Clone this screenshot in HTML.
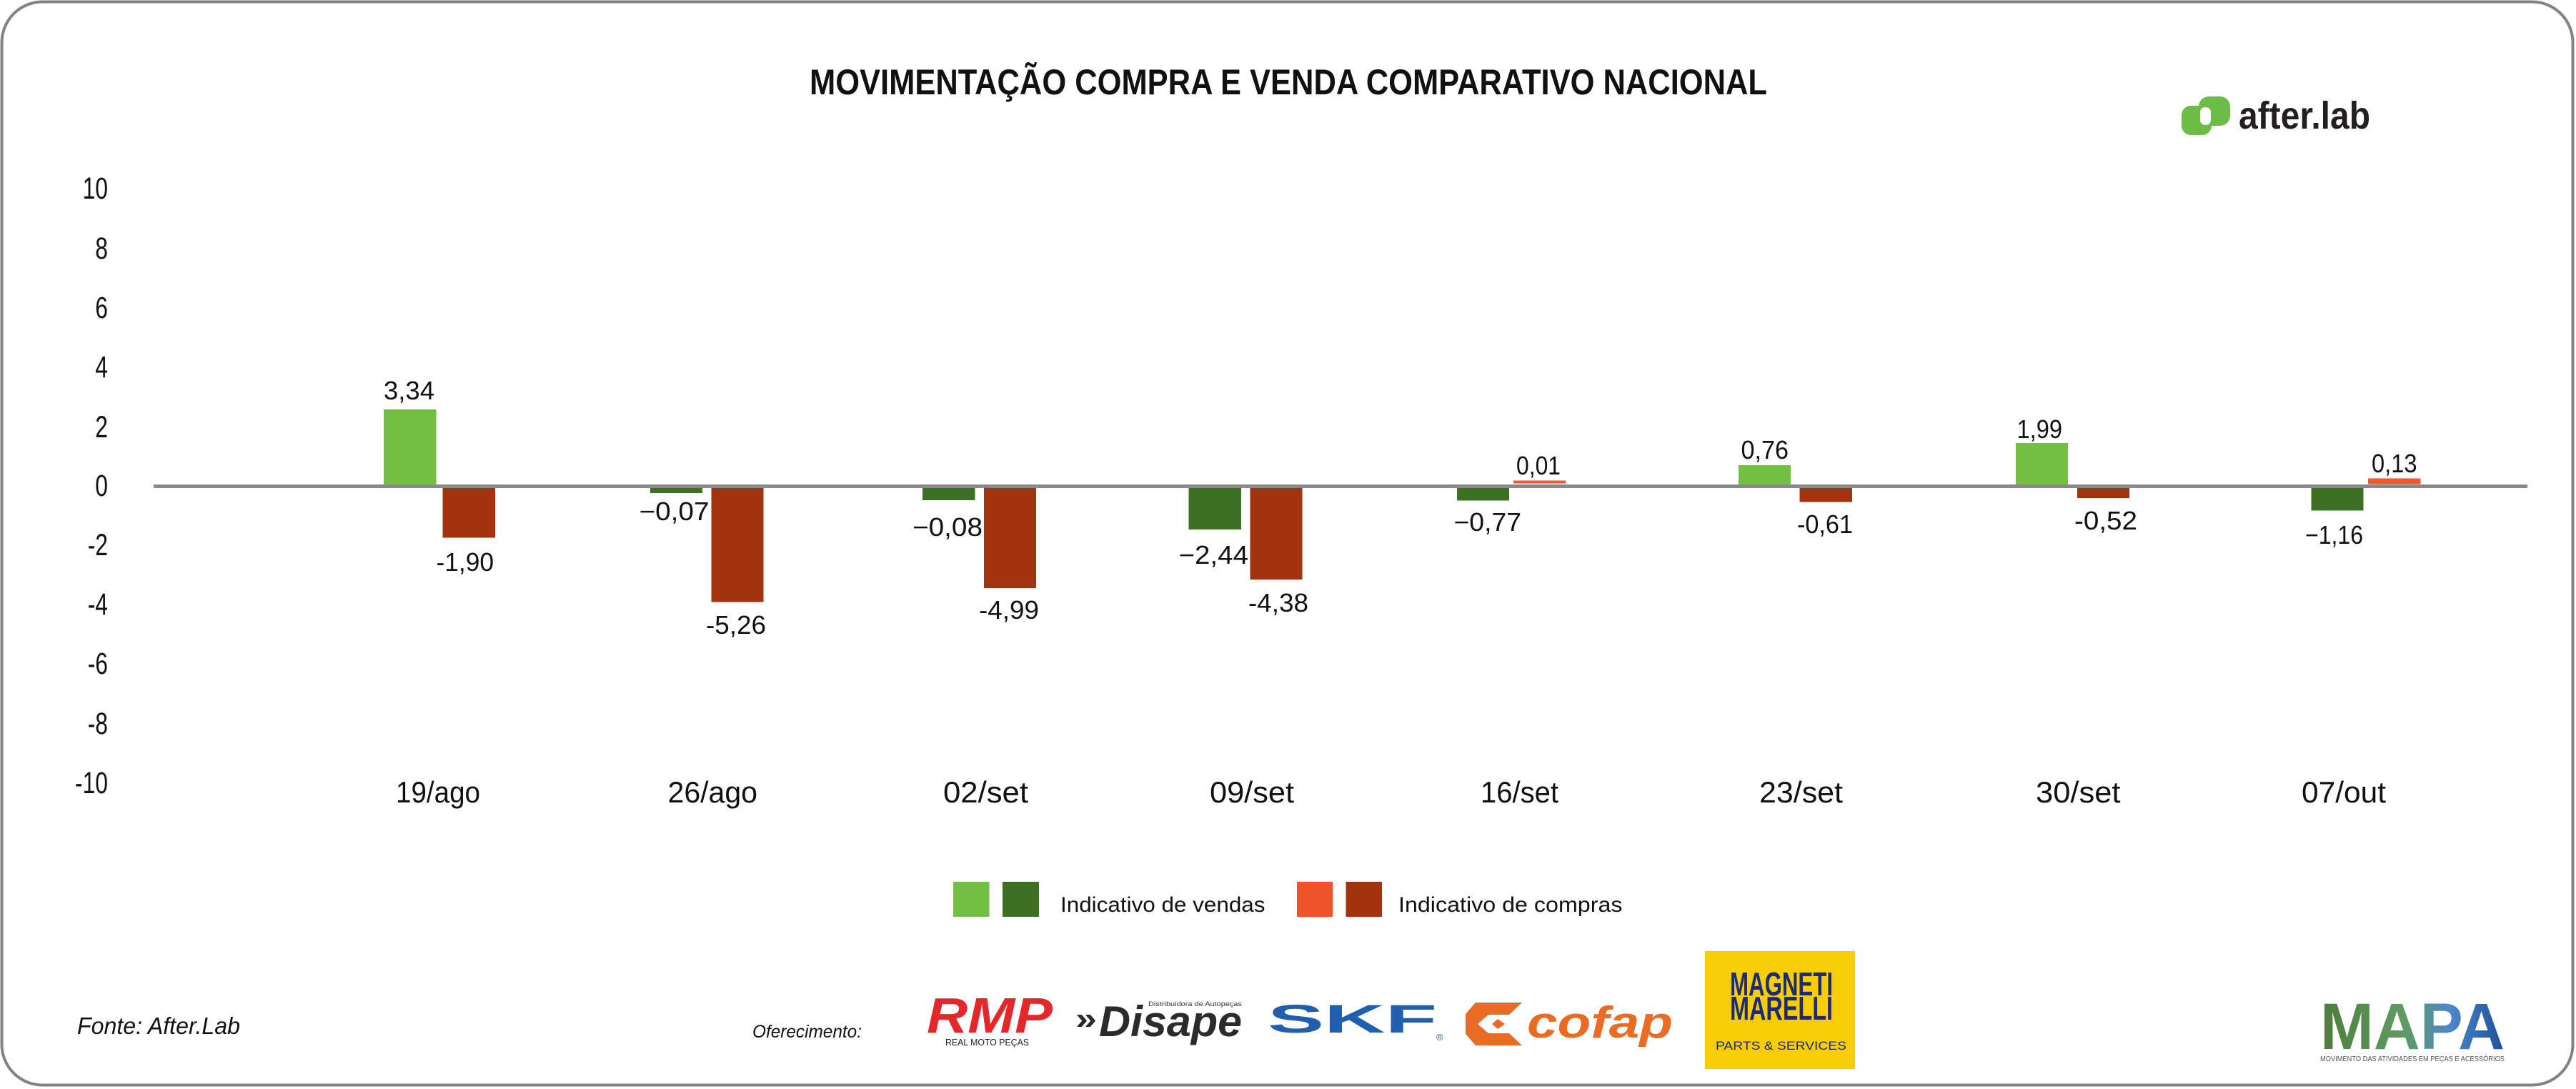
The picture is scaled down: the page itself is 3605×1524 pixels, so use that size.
<!DOCTYPE html>
<html>
<head>
<meta charset="utf-8">
<style>
  html, body { margin: 0; padding: 0; background: #ffffff; }
  svg { display: block; }
  text { font-family: "Liberation Sans", Arial, sans-serif; fill: #111; }
</style>
</head>
<body>
<svg width="3605" height="1524" viewBox="0 0 3605 1524" xmlns="http://www.w3.org/2000/svg">
  <defs>
    <linearGradient id="mapaGrad" x1="0" y1="0" x2="1" y2="0">
      <stop offset="0" stop-color="#4f7d3c"/>
      <stop offset="0.45" stop-color="#5f9a63"/>
      <stop offset="0.7" stop-color="#4d88c8"/>
      <stop offset="1" stop-color="#1d4f9a"/>
    </linearGradient>
  </defs>

  <!-- background & border -->
  <rect x="0" y="0" width="3605" height="1524" fill="#ffffff"/>
  <rect x="2.5" y="2.5" width="3598" height="1516" rx="57" ry="57" fill="#ffffff" stroke="#838383" stroke-width="4"/>

  <!-- title -->
  <text x="1133" y="132" font-size="50" font-weight="bold" textLength="1340" lengthAdjust="spacingAndGlyphs">MOVIMENTAÇÃO COMPRA E VENDA COMPARATIVO NACIONAL</text>

  <!-- after.lab logo -->
  <rect x="3053" y="148" width="42" height="41" rx="13" fill="#6cbd45"/>
  <rect x="3077" y="135" width="44" height="41" rx="14" fill="#6cbd45"/>
  <rect x="3079" y="150" width="15" height="25" rx="7" fill="#ffffff"/>
  <text x="3133" y="180" font-size="54" font-weight="bold" textLength="184" lengthAdjust="spacingAndGlyphs" style="fill:#231f20">after.lab</text>

  <!-- y axis labels -->
  <g font-size="43" text-anchor="end">
    <text transform="translate(151,278) scale(0.74,1)">10</text>
    <text transform="translate(151,362) scale(0.74,1)">8</text>
    <text transform="translate(151,445) scale(0.74,1)">6</text>
    <text transform="translate(151,528) scale(0.74,1)">4</text>
    <text transform="translate(151,612) scale(0.74,1)">2</text>
    <text transform="translate(151,694) scale(0.74,1)">0</text>
    <text transform="translate(151,777) scale(0.74,1)">-2</text>
    <text transform="translate(151,860) scale(0.74,1)">-4</text>
    <text transform="translate(151,943) scale(0.74,1)">-6</text>
    <text transform="translate(151,1027) scale(0.74,1)">-8</text>
    <text transform="translate(151,1110) scale(0.74,1)">-10</text>
  </g>

  <!-- bars -->
  <rect x="537" y="573" width="73.5" height="105" fill="#72bf44"/>
  <rect x="619.5" y="680" width="73.5" height="72.5" fill="#a3320e"/>
  <rect x="910" y="680" width="73" height="10" fill="#3d7022"/>
  <rect x="995.5" y="680" width="73" height="162.5" fill="#a3320e"/>
  <rect x="1291" y="680" width="73.5" height="20" fill="#3d7022"/>
  <rect x="1377" y="680" width="73" height="143" fill="#a3320e"/>
  <rect x="1663.5" y="680" width="73.5" height="61" fill="#3d7022"/>
  <rect x="1749.5" y="680" width="73" height="131" fill="#a3320e"/>
  <rect x="2039" y="680" width="73" height="20.5" fill="#3d7022"/>
  <rect x="2118" y="672.5" width="73" height="4" fill="#ec573a"/>
  <rect x="2433" y="651" width="73" height="27" fill="#72bf44"/>
  <rect x="2518.5" y="680" width="73.5" height="22.5" fill="#a3320e"/>
  <rect x="2821" y="620" width="73" height="58" fill="#72bf44"/>
  <rect x="2907" y="680" width="73" height="17" fill="#a3320e"/>
  <rect x="3234.5" y="680" width="73" height="34.5" fill="#3d7022"/>
  <rect x="3314" y="669.5" width="73.5" height="8" fill="#f0582a"/>

  <!-- zero axis line -->
  <rect x="215" y="678" width="3322" height="5" fill="#8a8a8a"/>

  <!-- data labels -->
  <g font-size="36">
    <text x="537" y="559" textLength="71" lengthAdjust="spacingAndGlyphs">3,34</text>
    <text x="610.5" y="799" textLength="80.5" lengthAdjust="spacingAndGlyphs">-1,90</text>
    <text x="894.5" y="728" textLength="98" lengthAdjust="spacingAndGlyphs">−0,07</text>
    <text x="988" y="887" textLength="84" lengthAdjust="spacingAndGlyphs">-5,26</text>
    <text x="1277" y="750" textLength="98" lengthAdjust="spacingAndGlyphs">−0,08</text>
    <text x="1370" y="866" textLength="84" lengthAdjust="spacingAndGlyphs">-4,99</text>
    <text x="1649.5" y="789" textLength="97.5" lengthAdjust="spacingAndGlyphs">−2,44</text>
    <text x="1747" y="856" textLength="84" lengthAdjust="spacingAndGlyphs">-4,38</text>
    <text x="2034.5" y="743" textLength="94.5" lengthAdjust="spacingAndGlyphs">−0,77</text>
    <text x="2122" y="664" textLength="62" lengthAdjust="spacingAndGlyphs">0,01</text>
    <text x="2436.5" y="642" textLength="66.5" lengthAdjust="spacingAndGlyphs">0,76</text>
    <text x="2515" y="746" textLength="78" lengthAdjust="spacingAndGlyphs">-0,61</text>
    <text x="2822.5" y="613" textLength="63.5" lengthAdjust="spacingAndGlyphs">1,99</text>
    <text x="2903" y="741" textLength="88" lengthAdjust="spacingAndGlyphs">-0,52</text>
    <text x="3226" y="761" textLength="81" lengthAdjust="spacingAndGlyphs">−1,16</text>
    <text x="3319" y="661" textLength="63.5" lengthAdjust="spacingAndGlyphs">0,13</text>
  </g>

  <!-- x axis labels -->
  <g font-size="42">
    <text x="554" y="1123" textLength="118" lengthAdjust="spacingAndGlyphs">19/ago</text>
    <text x="934.5" y="1123" textLength="125.5" lengthAdjust="spacingAndGlyphs">26/ago</text>
    <text x="1320" y="1123" textLength="119" lengthAdjust="spacingAndGlyphs">02/set</text>
    <text x="1693" y="1123" textLength="118" lengthAdjust="spacingAndGlyphs">09/set</text>
    <text x="2072" y="1123" textLength="109" lengthAdjust="spacingAndGlyphs">16/set</text>
    <text x="2462" y="1123" textLength="117" lengthAdjust="spacingAndGlyphs">23/set</text>
    <text x="2849" y="1123" textLength="118.5" lengthAdjust="spacingAndGlyphs">30/set</text>
    <text x="3221" y="1123" textLength="118" lengthAdjust="spacingAndGlyphs">07/out</text>
  </g>

  <!-- legend -->
  <rect x="1334" y="1234" width="50.5" height="49" fill="#72bf44"/>
  <rect x="1403" y="1234" width="51" height="49" fill="#3d7022"/>
  <text x="1484" y="1276" font-size="30" textLength="286.5" lengthAdjust="spacingAndGlyphs">Indicativo de vendas</text>
  <rect x="1815" y="1234" width="50" height="49" fill="#f0522a"/>
  <rect x="1883.5" y="1234" width="50.5" height="49" fill="#a3320e"/>
  <text x="1957" y="1276" font-size="30" textLength="313.5" lengthAdjust="spacingAndGlyphs">Indicativo de compras</text>

  <!-- footer texts -->
  <text x="108" y="1447" font-size="33" font-style="italic" textLength="228" lengthAdjust="spacingAndGlyphs">Fonte: After.Lab</text>
  <text x="1053" y="1452" font-size="25" font-style="italic" textLength="153" lengthAdjust="spacingAndGlyphs">Oferecimento:</text>

  <!-- RMP logo -->
  <text x="1297" y="1445" font-size="70" font-weight="bold" font-style="italic" textLength="176" lengthAdjust="spacingAndGlyphs" style="fill:#e5262b">RMP</text>
  <text x="1323" y="1463" font-size="13" textLength="117" lengthAdjust="spacingAndGlyphs" style="fill:#222">REAL MOTO PEÇAS</text>

  <!-- Disape logo -->
  <text x="1505" y="1440" font-size="44" font-weight="bold" textLength="30" lengthAdjust="spacingAndGlyphs" style="fill:#2b2b2b">»</text>
  <text x="1538" y="1450" font-size="60" font-weight="bold" font-style="italic" textLength="200" lengthAdjust="spacingAndGlyphs" style="fill:#2b2b2b">Disape</text>
  <text x="1607" y="1408" font-size="9" textLength="131" lengthAdjust="spacingAndGlyphs" style="fill:#333">Distribuidora de Autopeças</text>

  <!-- SKF logo -->
  <text x="1774" y="1445" font-size="56" font-weight="bold" textLength="237" lengthAdjust="spacingAndGlyphs" style="fill:#1f5fae">SKF</text>
  <text x="2010" y="1456" font-size="13" style="fill:#1f5fae">®</text>

  <!-- Cofap logo -->
  <polygon points="2065,1403 2130,1403 2112,1420 2083,1420 2068,1433 2083,1446 2112,1446 2130,1463 2065,1463 2051,1447 2051,1419" fill="#ea6b24"/>
  <polygon points="2096,1426 2106,1433 2096,1440 2088,1433" fill="#ea6b24"/>
  <text x="2137" y="1452" font-size="62" font-weight="bold" font-style="italic" textLength="204" lengthAdjust="spacingAndGlyphs" style="fill:#ea6b24">cofap</text>

  <!-- Magneti Marelli -->
  <rect x="2386" y="1331" width="210" height="165" fill="#f8cd08"/>
  <text x="2421" y="1393" font-size="46" font-weight="bold" textLength="144" lengthAdjust="spacingAndGlyphs" style="fill:#1c2d6e">MAGNETI</text>
  <text x="2421" y="1427" font-size="46" font-weight="bold" textLength="144" lengthAdjust="spacingAndGlyphs" style="fill:#1c2d6e">MARELLI</text>
  <text x="2401" y="1469" font-size="17" textLength="183" lengthAdjust="spacingAndGlyphs" style="fill:#1c2d6e">PARTS &amp; SERVICES</text>

  <!-- MAPA logo -->
  <text x="3247" y="1468" font-size="92" font-weight="bold" textLength="258" lengthAdjust="spacingAndGlyphs" style="fill:url(#mapaGrad)">MAPA</text>
  <text x="3247" y="1485" font-size="10" textLength="258" lengthAdjust="spacingAndGlyphs" style="fill:#555">MOVIMENTO DAS ATIVIDADES EM PEÇAS E ACESSÓRIOS</text>
</svg>
</body>
</html>
